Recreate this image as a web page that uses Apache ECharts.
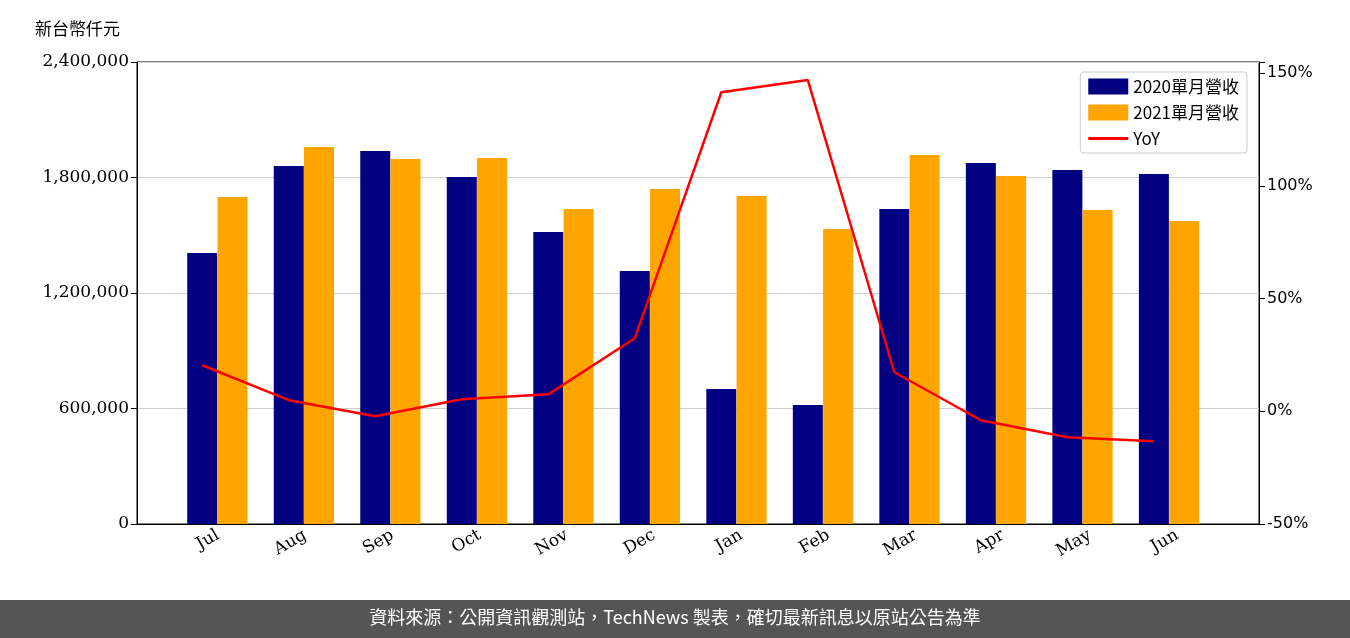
<!DOCTYPE html><html><head><meta charset="utf-8">
<script src="https://cdn.jsdelivr.net/npm/echarts@6/dist/echarts.min.js"></script>
<style>body{margin:0}#c{width:1350px;height:638px}</style></head><body><div id="c"></div><script>
const months=['Jul','Aug','Sep','Oct','Nov','Dec','Jan','Feb','Mar','Apr','May','Jun'];
const rev2020=[1408000,1860000,1938000,1803000,1517000,1314000,701000,618000,1636000,1875000,1839000,1818000];
const rev2021=[1699000,1958000,1896000,1901000,1636000,1740000,1704000,1532000,1917000,1808000,1631000,1574000];
const yoy=[20.4,4.9,-2.2,5.3,7.5,32.4,141.5,146.9,17.3,-4.0,-11.5,-13.3];
const f='DejaVu Serif';
const ch=echarts.init(document.getElementById('c'));
ch.setOption({
animation:false,
title:{text:'新台幣仟元',left:30,top:15,textStyle:{fontFamily:'Noto Sans CJK TC',fontSize:17,fontWeight:'normal',color:'#000'}},
legend:{right:103,top:72,orient:'vertical',itemWidth:40,itemHeight:16,itemGap:9,backgroundColor:'#fff',borderColor:'#ccc',borderWidth:1,borderRadius:3,padding:[6,8],
 textStyle:{fontFamily:'Noto Sans CJK TC',fontSize:17,color:'#000'},
 data:[{name:'2020單月營收',icon:'rect'},{name:'2021單月營收',icon:'rect'},{name:'YoY',icon:'path://M0,7 L40,7 L40,10 L0,10 Z'}]},
grid:[{left:137,right:91,top:62,bottom:114,show:true,borderColor:'#000',borderWidth:1},{left:174.4,width:1046.4,top:62,bottom:114}],
xAxis:[{type:'value',gridIndex:0,min:-0.929,max:12.04,axisLabel:{show:false},axisTick:{show:false},splitLine:{show:false},axisLine:{lineStyle:{color:'#000'}}},
{type:'category',gridIndex:1,data:months,axisLine:{show:false},axisTick:{alignWithLabel:true,length:5,lineStyle:{color:'#000'}},
 axisLabel:{rotate:30,fontFamily:f,fontSize:17,color:'#000',margin:10}}],
yAxis:[{type:'value',gridIndex:0,min:0,max:2400000,interval:600000,axisLine:{show:true,onZero:false,lineStyle:{color:'#000'}},axisTick:{show:true,length:6,lineStyle:{color:'#000'}},
 axisLabel:{fontFamily:f,fontSize:17,color:'#000',formatter:v=>v.toLocaleString('en-US')},splitLine:{lineStyle:{color:'#d0d0d0'}}},
{type:'value',gridIndex:0,position:'right',min:-50,max:154.9,interval:50,axisLine:{show:true,onZero:false,lineStyle:{color:'#000'}},axisTick:{show:true,length:6,lineStyle:{color:'#000'}},
 axisLabel:{fontFamily:'DejaVu Sans',fontSize:16,color:'#000',formatter:v=>v>150?'':v+'%'},splitLine:{show:false}},
{type:'value',gridIndex:1,show:false,min:0,max:1}],
series:[
{name:'2020單月營收',type:'bar',xAxisIndex:0,yAxisIndex:0,barWidth:30,barGap:'-100%',itemStyle:{color:'#000080'},data:rev2020.map((v,i)=>[i-0.175,v])},
{name:'2021單月營收',type:'bar',xAxisIndex:0,yAxisIndex:0,barWidth:30,barGap:'-100%',itemStyle:{color:'#ffa500'},data:rev2021.map((v,i)=>[i+0.175,v])},
{name:'YoY',type:'line',xAxisIndex:0,yAxisIndex:1,symbol:'none',lineStyle:{color:'#ff0000',width:2.5},itemStyle:{color:'#ff0000'},data:yoy.map((v,i)=>[i-0.175,v]),z:5},
{type:'line',xAxisIndex:1,yAxisIndex:2,data:[],silent:true}
],
graphic:[{type:'rect',left:0,top:600,shape:{width:1350,height:38},style:{fill:'#555'}},
{type:'text',left:'center',top:608,style:{text:'資料來源：公開資訊觀測站，TechNews 製表，確切最新訊息以原站公告為準',fill:'#fff',font:'18px "Noto Sans CJK TC"'}}]
});
</script></body></html>
